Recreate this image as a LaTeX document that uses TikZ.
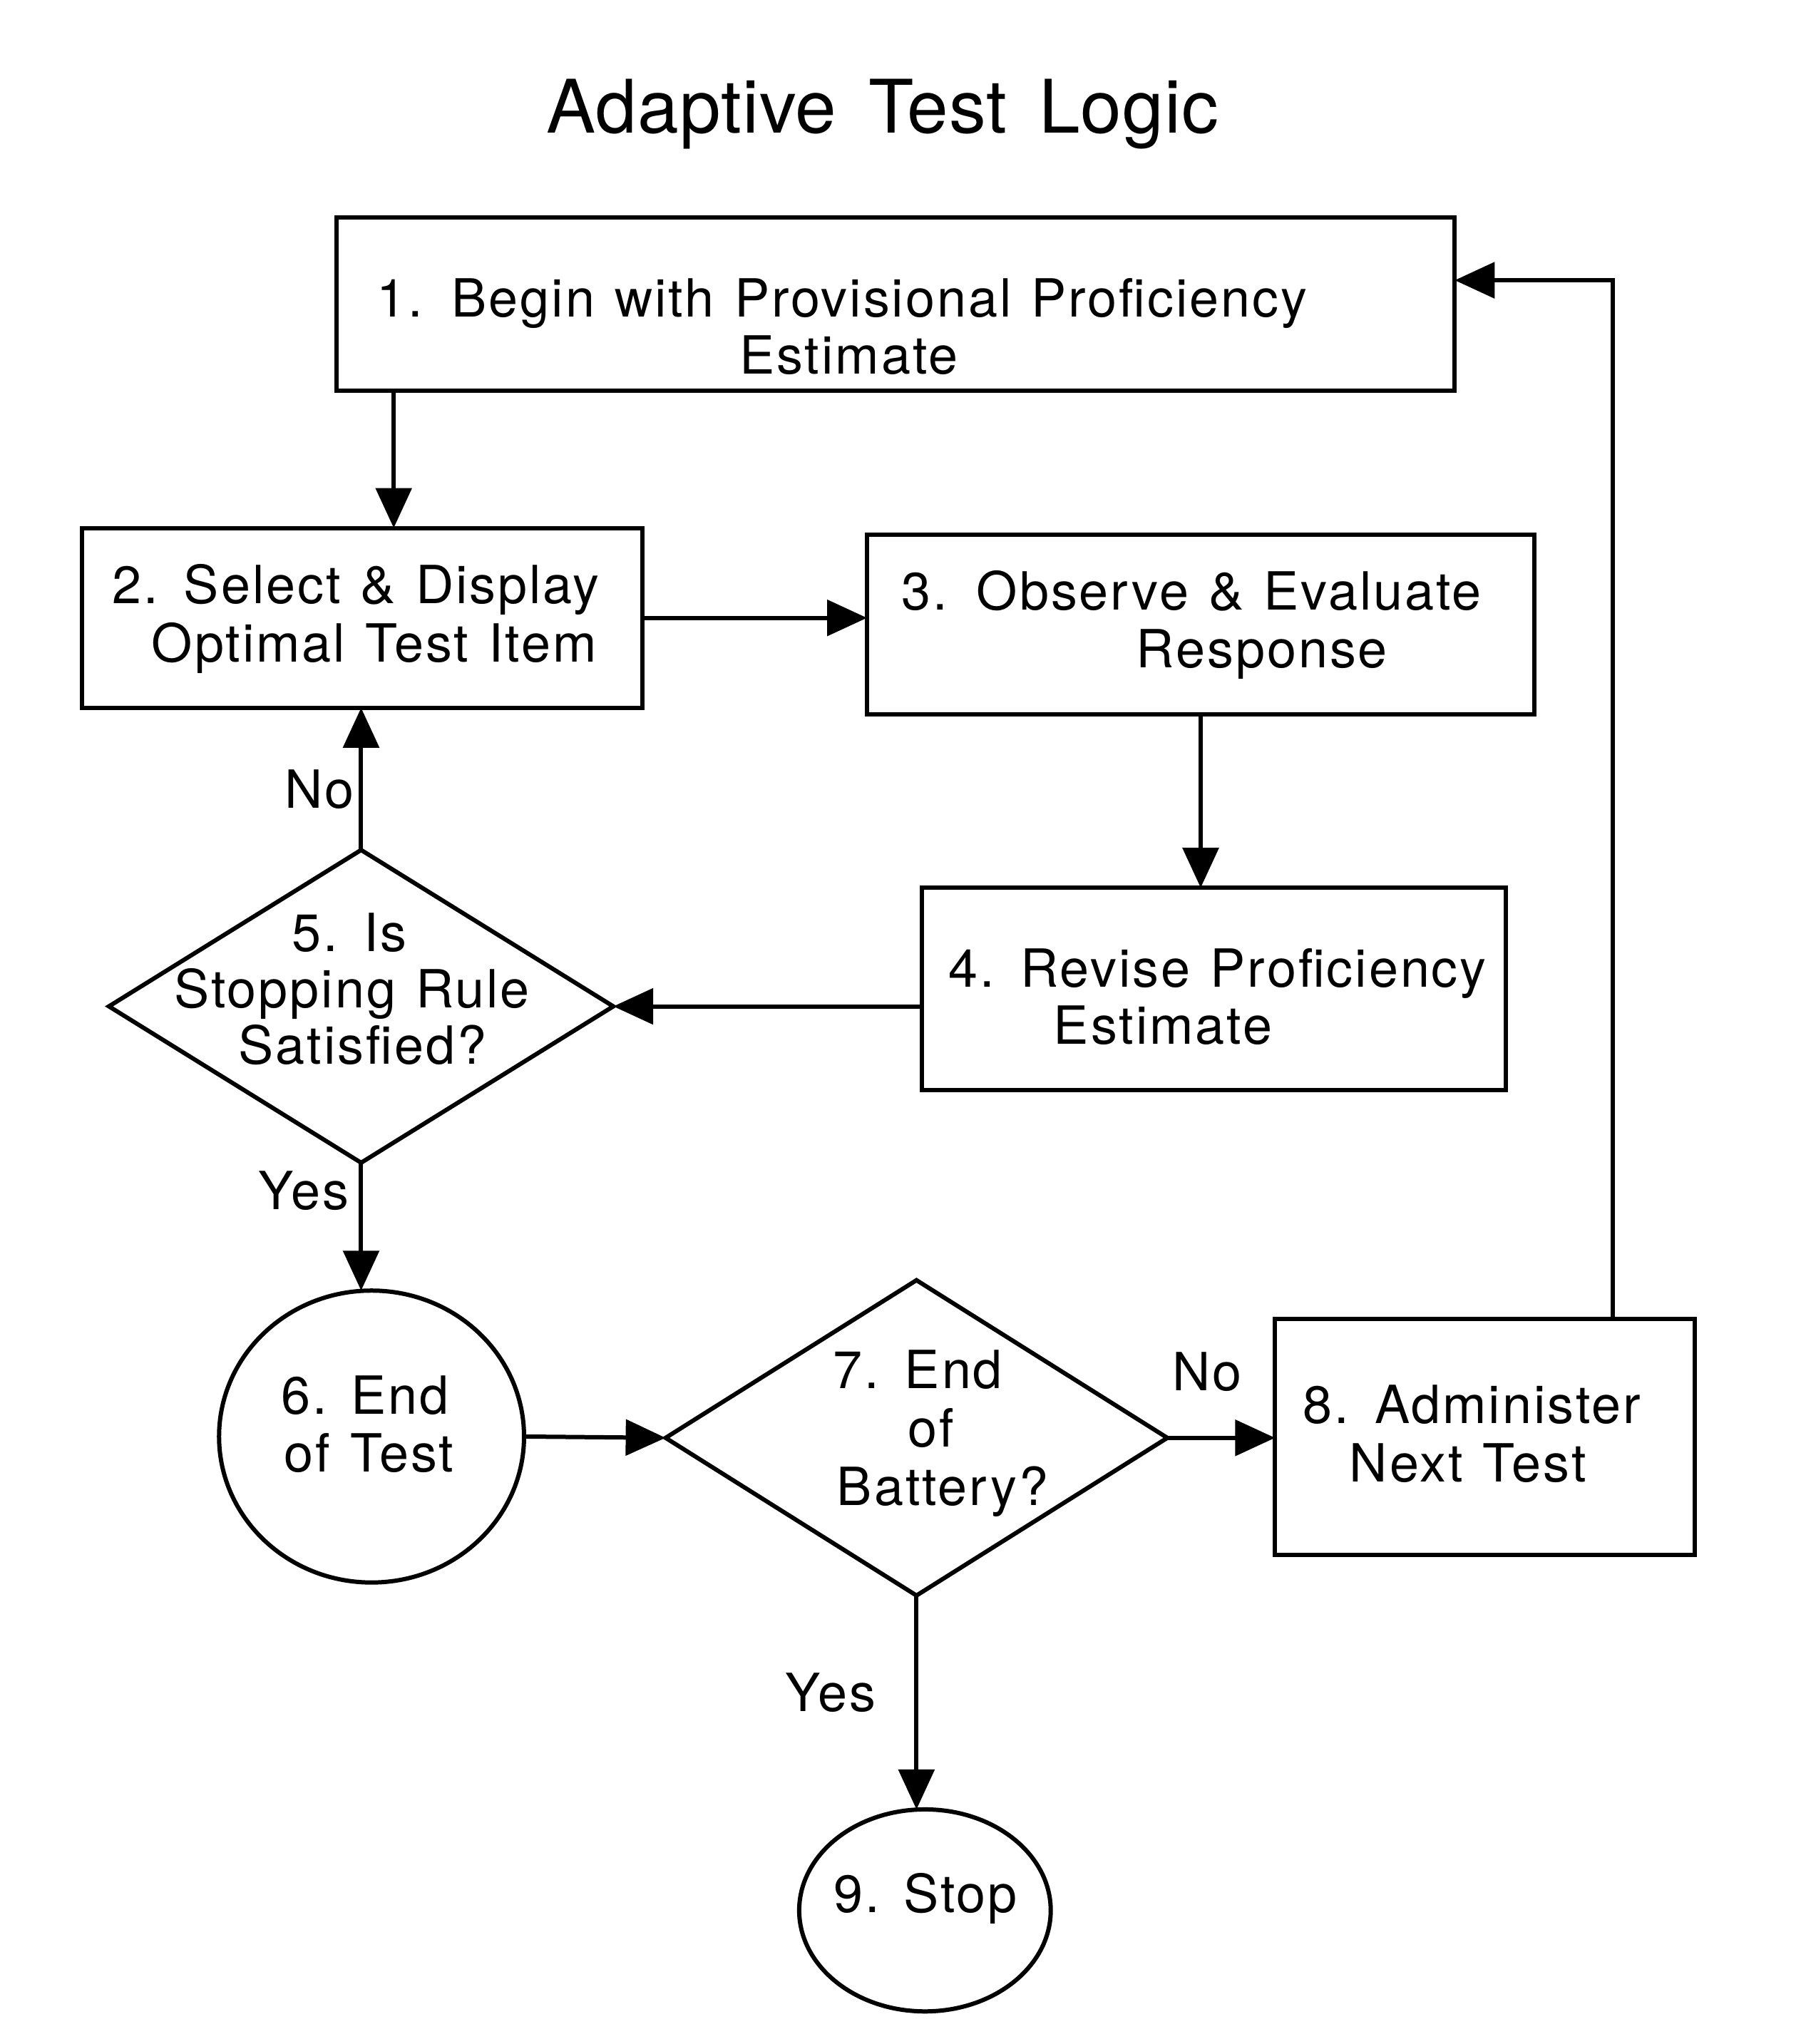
\documentclass[tikz,border=0pt]{standalone}
\usepackage{fontspec}
\setmainfont{TeX Gyre Heros}
\newfontfamily\boxfont[LetterSpace=4,WordSpace=1.2]{TeX Gyre Heros}
\newfontfamily\titlefont[LetterSpace=1,WordSpace=1.5]{TeX Gyre Heros}
\usetikzlibrary{shapes.geometric,arrows.meta}
\begin{document}
\begin{tikzpicture}[x=0.018289cm,y=-0.018289cm,
  shapeline/.style={draw=black,line width=0.06cm,inner sep=0pt,outer sep=0pt},
  boxshape/.style={shapeline,rectangle},
  decision/.style={shapeline,diamond},
  terminal/.style={shapeline,ellipse},
  txt/.style={anchor=base,inner sep=0pt,font=\boxfont\fontsize{21}{25}\selectfont},
  lbl/.style={txt},
  arr/.style={line width=0.06cm,-{Triangle[length=0.56cm,width=0.5cm]}}]
\useasboundingbox (0,0) rectangle (1385,1568);
\fill[white] (0,0) rectangle (1385,1568);
% title
\node[anchor=base,inner sep=0pt,font=\titlefont\fontsize{29.5}{35}\selectfont] (title) at (677,102) {Adaptive Test Logic};
% shapes
\node[boxshape,minimum width=15.692cm,minimum height=2.432cm] (b1) at (687,233.5) {};
\node[boxshape,minimum width=7.864cm,minimum height=2.524cm] (b2) at (278,474) {};
\node[boxshape,minimum width=9.364cm,minimum height=2.524cm] (b3) at (921,479) {};
\node[boxshape,minimum width=8.193cm,minimum height=2.835cm] (b4) at (931,758.5) {};
\node[decision,minimum width=7.078cm,minimum height=4.389cm,aspect=1.6] (d5) at (277,772) {};
\node[terminal,minimum width=4.280cm,minimum height=4.097cm] (c6) at (285,1102) {};
\node[decision,minimum width=7.041cm,minimum height=4.425cm,aspect=1.6] (d7) at (703,1103) {};
\node[boxshape,minimum width=5.889cm,minimum height=3.310cm] (b8) at (1139,1102.5) {};
\node[terminal,minimum width=3.530cm,minimum height=2.835cm] (c9) at (709.5,1465.5) {};
% texts
\node[txt] (t1a) at (646,243) {1.\hspace{0.55em}Begin with Provisional Proficiency};
\node[txt] (t1b) at (651,287) {Estimate};
\node[txt] (t2a) at (273,463) {2. Select \& Display};
\node[txt] (t2b) at (287,508) {Optimal Test Item};
\node[txt] (t3a) at (914,468) {3.\hspace{0.55em}Observe \& Evaluate};
\node[txt] (t3b) at (968,512) {Response};
\node[txt] (t4a) at (934,757) {4. Revise Proficiency};
\node[txt] (t4b) at (892,801) {Estimate};
\node[txt] (t5a) at (268,730) {5. Is};
\node[txt] (t5b) at (270,773) {Stopping Rule};
\node[txt] (t5c) at (278,816) {Satisfied?};
\node[txt] (t6a) at (280,1085) {6.\hspace{0.45em}End};
\node[txt] (t6b) at (283,1129) {of Test};
\node[txt] (t7a) at (704,1065) {7. End};
\node[txt] (t7b) at (714,1110) {of};
\node[txt] (t7c) at (723,1155) {Battery?};
\node[txt] (t8a) at (1129,1092) {8. Administer};
\node[txt] (t8b) at (1126,1137) {Next Test};
\node[txt] (t9) at (710,1467) {9.\hspace{0.45em}Stop};
% labels
\node[lbl] (no5) at (245,620) {No};
\node[lbl] (yes5) at (233,928) {Yes};
\node[lbl] (no7) at (926,1067) {No};
\node[lbl] (yes7) at (637,1313) {Yes};
% helper coordinates
\coordinate (v1) at (302,0);
\coordinate (v2) at (1237,215);
% connectors
\draw[arr] (b1.south -| v1) -- (b2.north -| v1);
\draw[arr] (b2.east) -- (b2.east -| b3.west);
\draw[arr] (b3.south) -- (b3.south |- b4.north);
\draw[arr] (d5.east -| b4.west) -- (d5.east);
\draw[arr] (d5.north) -- (d5.north |- b2.south);
\draw[arr] (d5.south) -- (d5.south |- c6.north);
\draw[arr] (c6.east) -- (d7.west);
\draw[arr] (d7.east) -- (d7.east -| b8.west);
\draw[arr] (d7.south) -- (d7.south |- c9.north);
\draw[arr] (b8.north -| v2) -- (v2) -- (b1.east |- v2);
\end{tikzpicture}
\end{document}
